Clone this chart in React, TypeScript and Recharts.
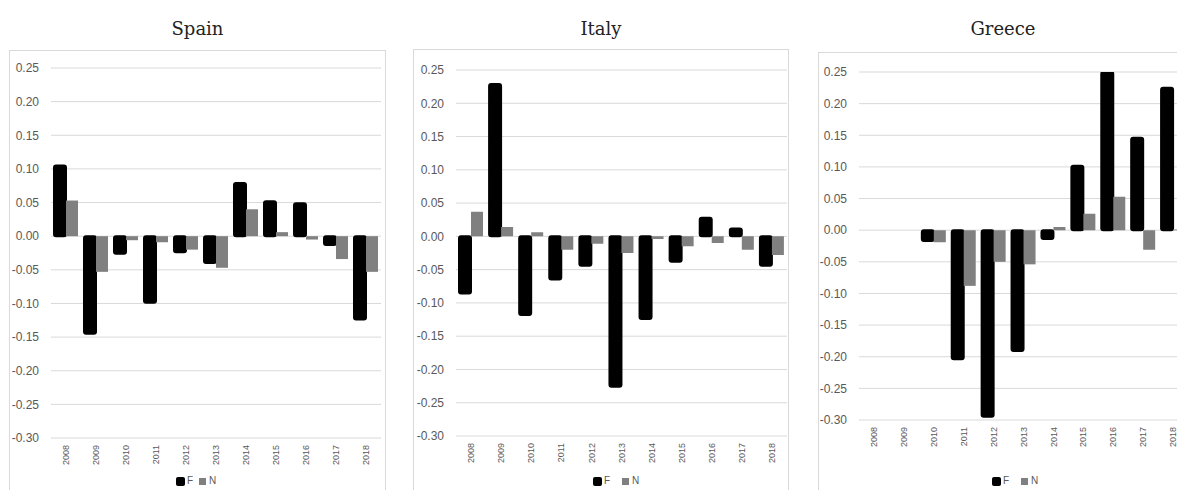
import { Bar, BarChart, CartesianGrid, XAxis, YAxis } from "recharts";

const years = ["2008", "2009", "2010", "2011", "2012", "2013", "2014", "2015", "2016", "2017", "2018"];

const spainF = [0.105, -0.145, -0.026, -0.099, -0.024, -0.04, 0.079, 0.052, 0.049, -0.013, -0.124];
const spainN = [0.053, -0.053, -0.006, -0.009, -0.02, -0.047, 0.04, 0.006, -0.005, -0.034, -0.053];

const italyF = [-0.086, 0.229, -0.118, -0.065, -0.044, -0.226, -0.124, -0.038, 0.028, 0.012, -0.044];
const italyN = [0.037, 0.014, 0.006, -0.02, -0.011, -0.025, -0.004, -0.015, -0.01, -0.02, -0.028];

const greeceF = [null, null, -0.017, -0.204, -0.295, -0.191, -0.014, 0.102, 0.25, 0.146, 0.225];
const greeceN = [null, null, -0.019, -0.088, -0.05, -0.054, 0.005, 0.026, 0.053, -0.031, 0.001];

const yTicks = [0.25, 0.2, 0.15, 0.1, 0.05, 0, -0.05, -0.1, -0.15, -0.2, -0.25, -0.3];

const toRows = (f: (number | null)[], n: (number | null)[]) =>
  years.map((year, i) => ({ year, F: f[i], N: n[i] }));

const tickFont = "'Liberation Sans', Arial, sans-serif";
const grey = "#595959";

const YearTick = (props: any) => {
  const { x, y, payload } = props;
  return (
    <text
      transform={`translate(${x},${y}) rotate(-90)`}
      textAnchor="end"
      dy="0.35em"
      fontSize={9}
      fontFamily={tickFont}
      fill={grey}
    >
      {payload.value}
    </text>
  );
};

type PanelProps = {
  title: string;
  rows: { year: string; F: number | null; N: number | null }[];
  box: { left: number; top: number; width: number };
  chartLeft: number;
  chartWidth: number;
  plotTop: number;
  plotBottom: number;
  rightGap: number;
  legendLeft: number;
  legendGap: number;
};

const Panel = ({ title, rows, box, chartLeft, chartWidth, plotTop, plotBottom, rightGap, legendLeft, legendGap }: PanelProps) => {
  const height = 490;
  return (
    <>
      <div
        style={{
          position: "absolute",
          left: box.left,
          top: box.top,
          width: box.width,
          height: 470,
          boxSizing: "border-box",
          border: "1px solid #d9d9d9",
        }}
      />
      <div
        style={{
          position: "absolute",
          left: box.left,
          width: box.width,
          top: 20,
          textAlign: "center",
          fontFamily: "'DejaVu Serif', serif",
          fontSize: 18,
          lineHeight: "18px",
          color: "#222",
        }}
      >
        {title}
      </div>
      <div style={{ position: "absolute", left: chartLeft, top: 0 }}>
        <BarChart
          width={chartWidth}
          height={height}
          data={rows}
          margin={{ top: plotTop, right: rightGap, bottom: 0, left: 0 }}
          barSize={12}
          barGap={0}
        >
          <CartesianGrid vertical={false} stroke="#d9d9d9" />
          <XAxis
            dataKey="year"
            axisLine={false}
            tickLine={false}
            tickSize={0}
            tickMargin={7}
            interval={0}
            height={height - plotBottom}
            tick={<YearTick />}
          />
          <YAxis
            domain={[-0.3, 0.25]}
            ticks={yTicks}
            allowDataOverflow
            axisLine={false}
            tickLine={false}
            tickSize={0}
            tickMargin={12}
            width={51}
            tickFormatter={(v: number) => v.toFixed(2)}
            tick={{ fontSize: 12, fontFamily: tickFont, fill: grey }}
          />
          <Bar dataKey="F" fill="#000" stroke="#000" strokeWidth={2} radius={2} isAnimationActive={false} />
          <Bar dataKey="N" fill="#808080" isAnimationActive={false} />
        </BarChart>
      </div>
      <div
        style={{
          position: "absolute",
          left: legendLeft,
          top: 476,
          display: "flex",
          alignItems: "center",
          fontFamily: tickFont,
          fontSize: 10,
          color: grey,
          lineHeight: "10px",
        }}
      >
        <span style={{ width: 9, height: 9, background: "#000", borderRadius: 2, display: "inline-block" }} />
        <span style={{ marginLeft: 2 }}>F</span>
        <span
          style={{ width: 7, height: 7, background: "#808080", display: "inline-block", marginLeft: legendGap }}
        />
        <span style={{ marginLeft: 3 }}>N</span>
      </div>
    </>
  );
};

const App = () => {
  return (
    <div style={{ position: "fixed", left: 0, top: 0, width: 1177, height: 490, overflow: "hidden", background: "#fff" }}>
      <Panel
        title="Spain"
        rows={toRows(spainF, spainN)}
        box={{ left: 9, top: 50, width: 377 }}
        chartLeft={0}
        chartWidth={386}
        plotTop={68}
        plotBottom={438}
        rightGap={5}
        legendLeft={176}
        legendGap={6}
      />
      <Panel
        title="Italy"
        rows={toRows(italyF, italyN)}
        box={{ left: 413, top: 49, width: 376 }}
        chartLeft={405}
        chartWidth={384}
        plotTop={70}
        plotBottom={436}
        rightGap={2}
        legendLeft={593}
        legendGap={12}
      />
      <Panel
        title="Greece"
        rows={toRows(greeceF, greeceN)}
        box={{ left: 818, top: 52, width: 370 }}
        chartLeft={808}
        chartWidth={382}
        plotTop={72}
        plotBottom={420}
        rightGap={2}
        legendLeft={992}
        legendGap={12}
      />
    </div>
  );
};

export default App;
